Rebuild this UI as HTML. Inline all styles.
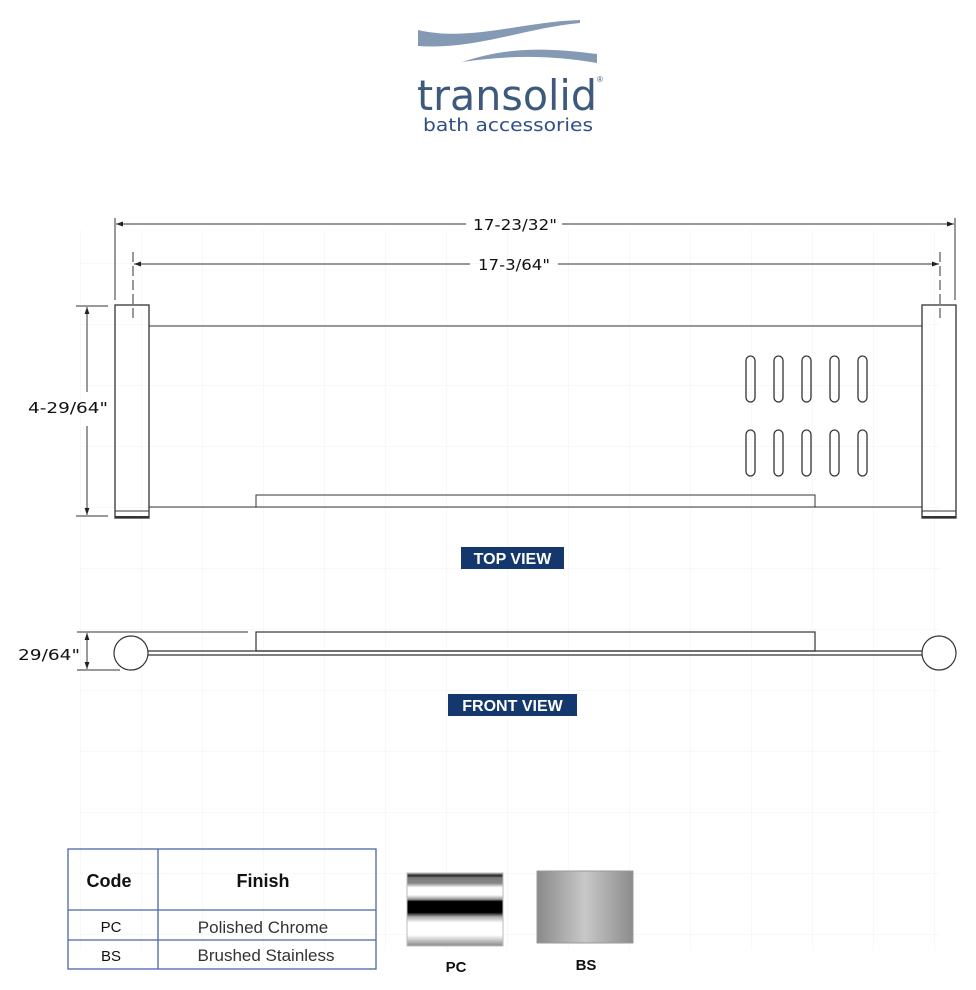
<!DOCTYPE html>
<html><head><meta charset="utf-8"><style>
html,body{margin:0;padding:0;background:#fff;width:976px;height:990px;overflow:hidden}
svg{display:block}
</style></head><body>
<svg width="976" height="990" viewBox="0 0 976 990" xmlns="http://www.w3.org/2000/svg" font-family="Liberation Sans, sans-serif">
<defs>
<pattern id="g" width="61" height="61" patternUnits="userSpaceOnUse" x="20" y="20">
<path d="M61 0V61M0 61H61" stroke="#eef3f8" stroke-width="1" fill="none"/>
</pattern>
<linearGradient id="pc" x1="0" y1="0" x2="0" y2="1">
<stop offset="0" stop-color="#999"/><stop offset="0.04" stop-color="#222"/><stop offset="0.06" stop-color="#777"/>
<stop offset="0.14" stop-color="#888"/><stop offset="0.2" stop-color="#fff"/><stop offset="0.3" stop-color="#fff"/>
<stop offset="0.36" stop-color="#999"/><stop offset="0.39" stop-color="#000"/><stop offset="0.54" stop-color="#000"/>
<stop offset="0.6" stop-color="#aaa"/><stop offset="0.68" stop-color="#fff"/><stop offset="0.85" stop-color="#fff"/>
<stop offset="1" stop-color="#888"/>
</linearGradient>
<linearGradient id="bs" x1="0" y1="0" x2="1" y2="0">
<stop offset="0" stop-color="#8a8a8a"/><stop offset="0.5" stop-color="#c8c8c8"/><stop offset="0.7" stop-color="#b0b0b0"/><stop offset="1" stop-color="#8c8c8c"/>
</linearGradient>
<marker id="a" viewBox="0 0 10 10" refX="10" refY="5" markerWidth="7" markerHeight="7" orient="auto-start-reverse"><path d="M10 5L0 1.5V8.5Z" fill="#222"/></marker>
</defs>
<rect x="80" y="230" width="860" height="720" fill="url(#g)"/>
<!-- logo -->
<path d="M418 30 C470 42 520 22 580 20 L580 23 C525 28 475 50 418 46Z" fill="#8499b3"/>
<path d="M462 62 C510 46 550 48 597 54 L597 63 C550 55 510 55 462 62Z" fill="#8499b3"/>
<text x="417" y="110" font-size="42" fill="#3d5a7c" font-family="DejaVu Sans, sans-serif" textLength="180" lengthAdjust="spacingAndGlyphs">transolid</text>
<text x="597" y="82" font-size="8" fill="#3d5a7c">®</text>
<text x="423" y="131" font-size="18" fill="#2f4f86" font-family="DejaVu Sans, sans-serif" textLength="170" lengthAdjust="spacingAndGlyphs">bath accessories</text>
<g stroke="#333" fill="none" stroke-width="1">
<line x1="115" y1="218" x2="115" y2="300"/><line x1="955" y1="218" x2="955" y2="300"/>
<line x1="116" y1="224" x2="466" y2="224" marker-start="url(#a)"/><line x1="562" y1="224" x2="954" y2="224" marker-end="url(#a)"/>
<line x1="133" y1="252" x2="133" y2="320" stroke-dasharray="10,4"/><line x1="940" y1="252" x2="940" y2="320" stroke-dasharray="10,4"/>
<line x1="134" y1="264" x2="470" y2="264" marker-start="url(#a)"/><line x1="558" y1="264" x2="939" y2="264" marker-end="url(#a)"/>
<line x1="76" y1="306" x2="108" y2="306"/><line x1="76" y1="516" x2="108" y2="516"/>
<line x1="87" y1="307" x2="87" y2="392" marker-start="url(#a)"/><line x1="87" y1="426" x2="87" y2="515" marker-end="url(#a)"/>
<rect x="115" y="305" width="34" height="213" stroke-width="1.3"/>
<line x1="115" y1="511" x2="149" y2="511"/><line x1="115" y1="517" x2="149" y2="517" stroke-width="2"/>
<rect x="922" y="305" width="34" height="213" stroke-width="1.3"/>
<line x1="922" y1="511" x2="956" y2="511"/><line x1="922" y1="517" x2="956" y2="517" stroke-width="2"/>
<line x1="149" y1="326" x2="922" y2="326"/><line x1="149" y1="507" x2="922" y2="507"/>
<path d="M256 507V495H815V507"/>
<g stroke-width="1.3">
<rect x="746" y="356" width="9" height="46" rx="4.5"/><rect x="774" y="356" width="9" height="46" rx="4.5"/><rect x="802" y="356" width="9" height="46" rx="4.5"/><rect x="830" y="356" width="9" height="46" rx="4.5"/><rect x="858" y="356" width="9" height="46" rx="4.5"/>
<rect x="746" y="430" width="9" height="46" rx="4.5"/><rect x="774" y="430" width="9" height="46" rx="4.5"/><rect x="802" y="430" width="9" height="46" rx="4.5"/><rect x="830" y="430" width="9" height="46" rx="4.5"/><rect x="858" y="430" width="9" height="46" rx="4.5"/>
</g>
<line x1="77" y1="632" x2="248" y2="632"/><line x1="77" y1="670" x2="120" y2="670"/>
<line x1="87" y1="633" x2="87" y2="669" marker-start="url(#a)" marker-end="url(#a)"/>
<rect x="256" y="632" width="559" height="19" stroke-width="1.2"/>
<line x1="148" y1="651" x2="922" y2="651" stroke-width="1.3"/><line x1="148" y1="655" x2="922" y2="655" stroke-width="1.3"/>
<circle cx="131" cy="653" r="17" fill="#fff" stroke-width="1.2"/><circle cx="939" cy="653" r="17" fill="#fff" stroke-width="1.2"/>
</g>
<g font-size="15" fill="#111" font-family="DejaVu Sans, sans-serif">
<text x="515" y="230" text-anchor="middle" textLength="84" lengthAdjust="spacingAndGlyphs">17-23/32"</text>
<text x="514" y="270" text-anchor="middle" textLength="72" lengthAdjust="spacingAndGlyphs">17-3/64"</text>
<text x="68" y="413" text-anchor="middle" textLength="80" lengthAdjust="spacingAndGlyphs">4-29/64"</text>
<text x="49" y="660" text-anchor="middle" textLength="62" lengthAdjust="spacingAndGlyphs">29/64"</text>
</g>
<rect x="461" y="547" width="103" height="22" fill="#14386e"/>
<text x="512.5" y="564" text-anchor="middle" font-size="16" font-weight="bold" fill="#fff">TOP VIEW</text>
<rect x="448" y="694" width="129" height="22" fill="#14386e"/>
<text x="512.5" y="711" text-anchor="middle" font-size="16" font-weight="bold" fill="#fff">FRONT VIEW</text>
<g stroke="#4a67a8" stroke-width="1.3" fill="none">
<rect x="68" y="849" width="308" height="120"/>
<line x1="158" y1="849" x2="158" y2="969"/>
<line x1="68" y1="910" x2="376" y2="910"/><line x1="68" y1="940" x2="376" y2="940"/>
</g>
<g fill="#111">
<text x="109" y="887" text-anchor="middle" font-size="18" font-weight="bold">Code</text>
<text x="263" y="887" text-anchor="middle" font-size="18" font-weight="bold">Finish</text>
<text x="111" y="932" text-anchor="middle" font-size="15">PC</text>
<text x="111" y="961" text-anchor="middle" font-size="15">BS</text>
<text x="263" y="933" text-anchor="middle" font-size="17" fill="#333">Polished Chrome</text>
<text x="266" y="961" text-anchor="middle" font-size="17" fill="#333">Brushed Stainless</text>
<text x="456" y="972" text-anchor="middle" font-size="15" font-weight="bold">PC</text>
<text x="586" y="970" text-anchor="middle" font-size="15" font-weight="bold">BS</text>
</g>
<rect x="407" y="873" width="96" height="73" fill="url(#pc)" stroke="#bbb"/>
<rect x="537" y="871" width="96" height="72" fill="url(#bs)" stroke="#999"/>
</svg>
</body></html>
